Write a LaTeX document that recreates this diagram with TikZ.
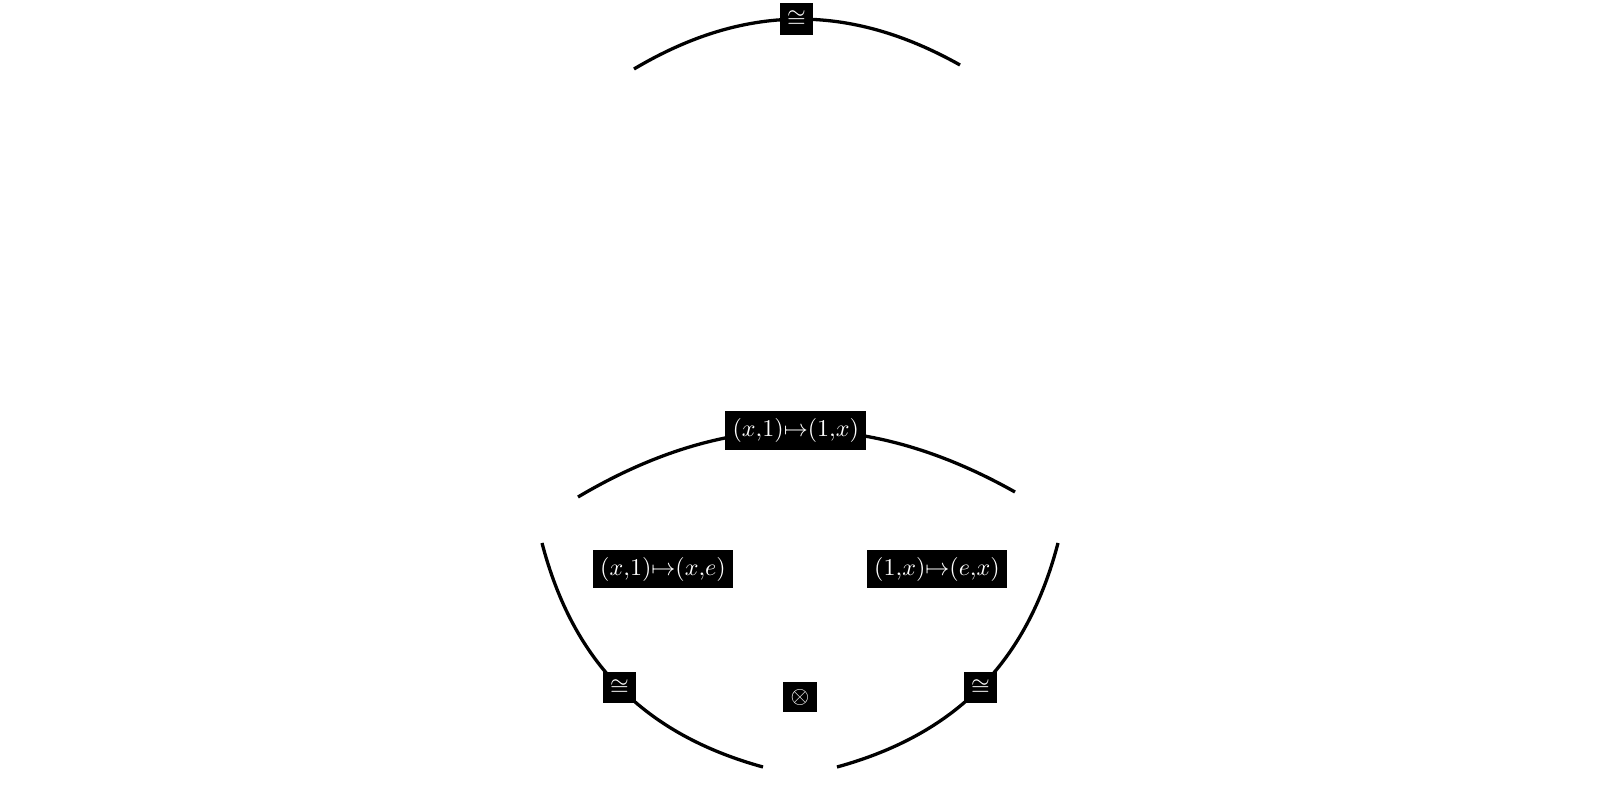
\documentclass[tikz,border=0pt]{standalone}
\begin{document}
\begin{tikzpicture}[
    x=0.16mm, y=-0.16mm,
    arc/.style={line width=1.5pt},
    lab/.style={rectangle, fill=black, text=white, inner sep=3.4pt, font=\fontsize{10.95}{13.6}\selectfont}
]
    \useasboundingbox (0,0) rectangle (1600,794);

    % top arc
    \coordinate (t1) at (634,69);
    \coordinate (t2) at (960,65);
    \draw[arc] (t1) to[bend left=30] node[lab] (isotop) {$\cong$} (t2);

    % triangle: upper arc
    \coordinate (l1) at (578,497);
    \coordinate (r1) at (1015,492);
    \draw[arc] (l1) to[bend left=30] node[lab] (swap) {$(x{,}1){\mapsto}(1{,}x)$} (r1);

    % triangle: lower arcs
    \coordinate (l2) at (542,543);
    \coordinate (b1) at (763,767);
    \coordinate (b2) at (837,767);
    \coordinate (r2) at (1058,543);
    \draw[arc] (l2) to[bend right=30] node[lab] (isoleft) {$\cong$} (b1);
    \draw[arc] (b2) to[bend right=30] node[lab] (isoright) {$\cong$} (r2);

    % inner labels
    \node[lab] (unitl) at (663,569) {$(x{,}1){\mapsto}(x{,}e)$};
    \node[lab] (unitr) at (937,569) {$(1{,}x){\mapsto}(e{,}x)$};
    \node[lab] (tensor) at (800,697) {$\otimes$};
\end{tikzpicture}
\end{document}
